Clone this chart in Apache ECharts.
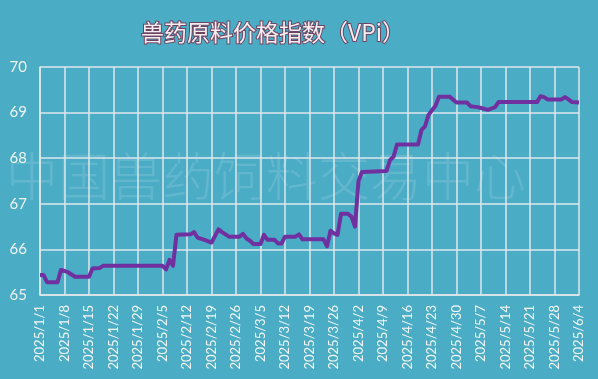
<!DOCTYPE html>
<html><head><meta charset="utf-8">
<script src="https://cdn.jsdelivr.net/npm/echarts@6/dist/echarts.min.js"></script>
<style>html,body{margin:0;padding:0;background:#4BACC6;}#c{width:598px;height:379px;}</style>
</head><body><div id="c"></div>
<script>
const titleText = '兽药原料价格指数（VPi）';
const watermark = '中国兽药饲料交易中心';
const tickLabels = ['2025/1/1','2025/1/8','2025/1/15','2025/1/22','2025/1/29','2025/2/5','2025/2/12','2025/2/19','2025/2/26','2025/3/5','2025/3/12','2025/3/19','2025/3/26','2025/4/2','2025/4/9','2025/4/16','2025/4/23','2025/4/30','2025/5/7','2025/5/14','2025/5/21','2025/5/28','2025/6/4'];
const dates = ['2025/1/1','2025/1/2','2025/1/3','2025/1/6','2025/1/7','2025/1/9','2025/1/10','2025/1/11','2025/1/15','2025/1/16','2025/1/18','2025/1/19','2025/2/5','2025/2/6','2025/2/7','2025/2/8','2025/2/9','2025/2/13','2025/2/14','2025/2/15','2025/2/17','2025/2/19','2025/2/21','2025/2/22','2025/2/24','2025/2/27','2025/2/28','2025/3/1','2025/3/2','2025/3/3','2025/3/5','2025/3/6','2025/3/7','2025/3/9','2025/3/10','2025/3/11','2025/3/12','2025/3/15','2025/3/16','2025/3/17','2025/3/23','2025/3/24','2025/3/25','2025/3/26','2025/3/27','2025/3/28','2025/3/30','2025/3/31','2025/4/1','2025/4/2','2025/4/3','2025/4/10','2025/4/11','2025/4/12','2025/4/13','2025/4/19','2025/4/20','2025/4/21','2025/4/22','2025/4/23','2025/4/24','2025/4/25','2025/4/28','2025/4/30','2025/5/3','2025/5/4','2025/5/6','2025/5/7','2025/5/9','2025/5/10','2025/5/11','2025/5/12','2025/5/23','2025/5/24','2025/5/25','2025/5/26','2025/5/30','2025/5/31','2025/6/1','2025/6/2','2025/6/4'];
const values = [65.44,65.44,65.28,65.28,65.55,65.50,65.45,65.40,65.40,65.58,65.59,65.64,65.64,65.56,65.77,65.64,66.32,66.33,66.38,66.26,66.21,66.15,66.44,66.38,66.28,66.28,66.34,66.24,66.19,66.12,66.12,66.32,66.21,66.21,66.13,66.13,66.28,66.28,66.33,66.22,66.22,66.07,66.41,66.35,66.32,66.78,66.78,66.72,66.50,67.50,67.70,67.72,67.96,68.03,68.30,68.30,68.62,68.70,68.95,69.05,69.15,69.35,69.35,69.22,69.22,69.14,69.12,69.10,69.06,69.09,69.12,69.23,69.23,69.36,69.34,69.29,69.29,69.34,69.29,69.23,69.22];

function dayOffset(s){
  const p = s.split('/').map(Number);
  return Math.round((Date.UTC(p[0],p[1]-1,p[2]) - Date.UTC(2025,0,1))/86400000);
}
const seriesData = dates.map((d,i)=>[dayOffset(d), values[i]]);
const xMax = dayOffset(tickLabels[tickLabels.length-1]);

const chart = echarts.init(document.getElementById('c'));
const gridCol = '#dfe7ea';
chart.setOption({
  backgroundColor: '#4BACC6',
  animation: false,
  title: {
    text: titleText,
    left: 136, top: 16,
    textStyle: {
      fontFamily: 'Noto Sans CJK SC', fontSize: 23, fontWeight: 'normal',
      color: '#f6edf1', textBorderColor: '#6e4560', textBorderWidth: 2
    }
  },
  graphic: [{
    type: 'text', left: 6, top: 150, silent: true, z: 0,
    style: { text: watermark, fontFamily: 'Noto Sans CJK SC', fontSize: 52, fontWeight: 300, fill: 'rgba(255,255,255,0.13)' }
  }],
  grid: { left: 40, right: 19, top: 67, bottom: 84 },
  xAxis: {
    type: 'value', min: 0, max: xMax, interval: 7,
    axisLine: { lineStyle: { color: gridCol, width: 1.5 } },
    axisTick: { show: false },
    splitLine: { show: true, lineStyle: { color: gridCol, width: 1.5 } },
    axisLabel: {
      rotate: 90, margin: 10, fontSize: 13, color: '#f2f6f8', fontFamily: 'Lato',
      formatter: v => tickLabels[Math.round(v/7)] || ''
    }
  },
  yAxis: {
    type: 'value', min: 65, max: 70, interval: 1,
    axisLine: { show: true, lineStyle: { color: gridCol, width: 1.5 } },
    axisTick: { show: false },
    splitLine: { show: true, lineStyle: { color: gridCol, width: 1.5 } },
    axisLabel: { fontSize: 15, color: '#eef3f6', fontFamily: 'Lato', margin: 13 }
  },
  series: [{
    type: 'line', data: seriesData, symbol: 'none',
    lineStyle: { color: '#7030A0', width: 4, join: 'round' }, z: 5
  }]
});
</script></body></html>
